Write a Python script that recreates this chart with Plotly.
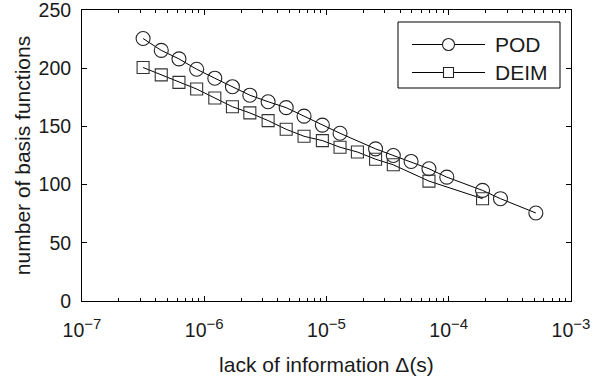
import plotly.graph_objects as go

# POD (circles)
pod_x = [3.16e-7, 4.45e-7, 6.21e-7, 8.67e-7, 1.22e-6, 1.70e-6, 2.36e-6, 3.33e-6,
         4.68e-6, 6.55e-6, 9.25e-6, 1.29e-5, 2.52e-5, 3.52e-5, 4.92e-5, 6.89e-5,
         9.64e-5, 1.89e-4, 2.65e-4, 5.16e-4]
pod_y = [225.5, 215.3, 208.0, 199.1, 191.4, 184.1, 176.8, 171.2,
         166.1, 158.8, 151.1, 144.1, 130.7, 125.0, 119.9, 113.6,
         106.4, 95.0, 87.9, 75.6]

# DEIM (squares)
deim_x = [3.16e-7, 4.45e-7, 6.21e-7, 8.67e-7, 1.22e-6, 1.70e-6, 2.36e-6, 3.33e-6,
          4.68e-6, 6.55e-6, 9.25e-6, 1.29e-5, 1.79e-5, 2.52e-5, 3.52e-5, 6.89e-5,
          1.89e-4]
deim_y = [200.6, 194.3, 187.8, 182.1, 174.4, 166.9, 161.6, 155.0,
          147.5, 141.5, 137.8, 132.1, 128.0, 121.8, 117.0, 103.0,
          87.9]

series_names = ["POD", "DEIM"]
y_ticks = [0, 50, 100, 150, 200, 250]
x_major = [1e-7, 1e-6, 1e-5, 1e-4, 1e-3]
x_exps = ["−7", "−6", "−5", "−4", "−3"]
x_minor = [m * d for d in [1e-7, 1e-6, 1e-5, 1e-4] for m in range(2, 10)]

FONT = "Liberation Sans, Arial, sans-serif"
INK = "#1a1a1a"
TICK = 19.5
TITLE = 21

fig = go.Figure()
fig.add_trace(go.Scatter(
    x=pod_x, y=pod_y, mode="lines+markers", name=series_names[0],
    line=dict(color="black", width=1),
    marker=dict(symbol="circle-open", size=14, color="#222", line=dict(width=1.1)),
    showlegend=False))
fig.add_trace(go.Scatter(
    x=deim_x, y=deim_y, mode="lines+markers", name=series_names[1],
    line=dict(color="black", width=1),
    marker=dict(symbol="square-open", size=12, color="#333", line=dict(width=1.1)),
    showlegend=False))

# manual MATLAB-style legend (paper coords)
ML, MR, MT, MB = 82, 26, 10, 82
W, H = 597, 383
L, R, T, B = ML, W - MR, MT, H - MB
def px(x):
    return (x - L) / (R - L)
def py(y):
    return (B - y) / (B - T)

shapes = [dict(type="rect", xref="paper", yref="paper",
               x0=px(398), x1=px(560), y0=py(88), y1=py(22),
               line=dict(color="black", width=1), fillcolor="white", layer="above")]
annotations = []
rows = [(44.5, "circle"), (72.5, "rect")]
for (yy, kind), name in zip(rows, series_names):
    shapes.append(dict(type="line", xref="paper", yref="paper",
                       x0=px(412), x1=px(485), y0=py(yy), y1=py(yy),
                       line=dict(color="black", width=1), layer="above"))
    r = 6 if kind == "circle" else 5
    shapes.append(dict(type=kind, xref="paper", yref="paper",
                       xsizemode="pixel", ysizemode="pixel",
                       xanchor=px(448.5), yanchor=py(yy),
                       x0=-r, x1=r, y0=-r, y1=r,
                       line=dict(color="#222", width=1.1), fillcolor="white", layer="above"))
    annotations.append(dict(xref="paper", yref="paper", x=px(493), y=py(yy),
                            text=name, showarrow=False, xanchor="left", yanchor="middle",
                            font=dict(family=FONT, size=TITLE, color=INK)))

fig.update_layout(
    width=W, height=H,
    margin=dict(l=ML, r=MR, t=MT, b=MB),
    paper_bgcolor="white", plot_bgcolor="white",
    font=dict(family=FONT, size=TICK, color=INK),
    shapes=shapes, annotations=annotations,
    showlegend=False,
)
fig.update_xaxes(
    type="log", range=[-7, -3], automargin=False, ticklabeloverflow="allow",
    tickvals=x_major,
    ticktext=[f"10<sup><span style='font-size:15px'>{e}</span></sup>" for e in x_exps],
    ticks="inside", ticklen=5, tickcolor="black", ticklabelstandoff=12,
    minor=dict(tickvals=x_minor, ticks="inside", ticklen=3, tickcolor="black", showgrid=False),
    showline=True, linecolor="black", linewidth=1, mirror="ticks",
    showgrid=False, zeroline=False,
    tickfont=dict(family=FONT, size=TICK, color=INK),
    title=dict(text="lack of information Δ(s)", font=dict(family=FONT, size=TITLE, color=INK),
               standoff=16),
)
fig.update_yaxes(
    range=[0, 250], tickvals=y_ticks, automargin=False, ticklabeloverflow="allow",
    ticks="inside", ticklen=5, tickcolor="black", ticklabelstandoff=6,
    showline=True, linecolor="black", linewidth=1, mirror="ticks",
    showgrid=False, zeroline=False,
    tickfont=dict(family=FONT, size=TICK, color=INK),
    title=dict(text="number of basis functions", font=dict(family=FONT, size=TITLE, color=INK),
               standoff=2),
)

fig.write_html("out.html", config={"displayModeBar": False},
               post_script="document.body.style.margin='0px';")
